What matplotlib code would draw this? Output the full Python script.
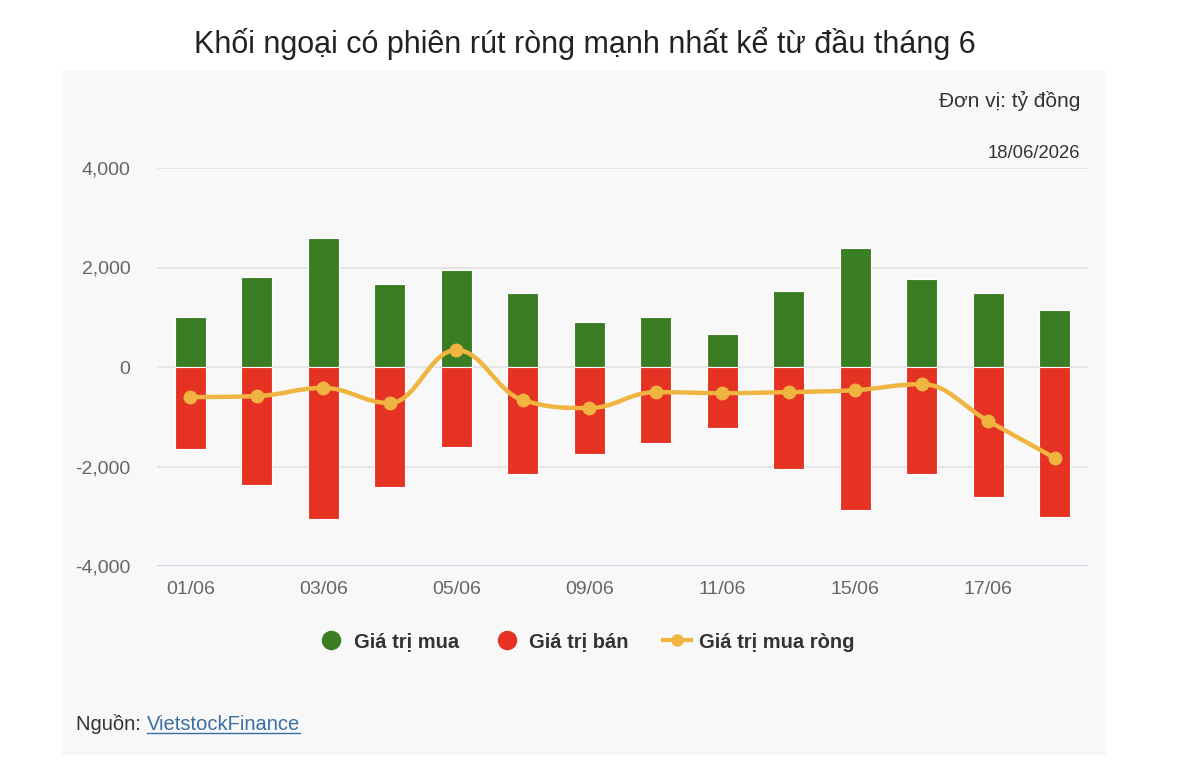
import matplotlib
matplotlib.use("Agg")
import matplotlib.pyplot as plt
import numpy as np
from matplotlib.lines import Line2D
from matplotlib.patches import Rectangle, PathPatch
from matplotlib.path import Path

plt.rcParams["font.family"] = ["Liberation Sans", "DejaVu Sans"]

# ── data (tỷ đồng) ───────────────────────────────────────────────────────
dates = ["01/06", "02/06", "03/06", "04/06", "05/06", "08/06", "09/06",
         "10/06", "11/06", "12/06", "15/06", "16/06", "17/06", "18/06"]
buy = [1005, 1810, 2590, 1670, 1950, 1490, 905, 1005, 665, 1530, 2390, 1770, 1490, 1145]
sell = [-1650, -2370, -3055, -2410, -1610, -2150, -1750, -1530, -1225, -2050, -2875, -2150, -2615, -3015]
net = [-605, -585, -420, -725, 340, -665, -825, -505, -525, -505, -465, -345, -1085, -1830]

GREEN, RED, ORANGE = "#3a7d23", "#e53222", "#f0b441"
BG = "#f8f8f8"


def spline_path(xs, ys, smoothing=1.5):
    # highcharts-style spline: cubic bezier through every point
    n = len(xs)
    lc = [None] * n
    rc = [None] * n
    for i in range(1, n - 1):
        x, y = xs[i], ys[i]
        lx, ly, nx, ny = xs[i - 1], ys[i - 1], xs[i + 1], ys[i + 1]
        d = smoothing + 1
        lcx, lcy = (smoothing * x + lx) / d, (smoothing * y + ly) / d
        rcx, rcy = (smoothing * x + nx) / d, (smoothing * y + ny) / d
        corr = (rcy - lcy) * (rcx - x) / (rcx - lcx) + y - rcy
        lcy += corr
        rcy += corr
        if lcy > ly and lcy > y:
            lcy = max(ly, y); rcy = 2 * y - lcy
        elif lcy < ly and lcy < y:
            lcy = min(ly, y); rcy = 2 * y - lcy
        if rcy > ny and rcy > y:
            rcy = max(ny, y); lcy = 2 * y - rcy
        elif rcy < ny and rcy < y:
            rcy = min(ny, y); lcy = 2 * y - rcy
        lc[i], rc[i] = (lcx, lcy), (rcx, rcy)
    verts = [(xs[0], ys[0])]
    codes = [Path.MOVETO]
    for i in range(1, n):
        c1 = rc[i - 1] or (xs[i - 1], ys[i - 1])
        c2 = lc[i] or (xs[i], ys[i])
        verts += [c1, c2, (xs[i], ys[i])]
        codes += [Path.CURVE4] * 3
    return Path(verts, codes)


fig = plt.figure(figsize=(12, 7.8), dpi=100)
fig.patch.set_facecolor("white")
fig.add_artist(Rectangle((62 / 1200, 1 - 755 / 780), 1044 / 1200, 685 / 780,
                         transform=fig.transFigure, facecolor=BG, edgecolor="none", zorder=-5))

ax = fig.add_axes([157 / 1200, 1 - 566 / 780, 931 / 1200, 398 / 780])
ax.set_zorder(2)
ax.set_facecolor(BG)
x = np.arange(len(dates))
ax.bar(x, buy, width=0.47, color=GREEN, edgecolor="white", linewidth=0.8, zorder=2)
ax.bar(x, sell, width=0.47, color=RED, edgecolor="white", linewidth=0.8, zorder=2)
ax.add_patch(PathPatch(spline_path(list(x), net), facecolor="none", edgecolor=ORANGE,
                       lw=3.2, capstyle="round", joinstyle="round", zorder=3))
ax.plot(x, net, ls="none", marker="o", ms=9, color=ORANGE, zorder=4)

ax.set_xlim(-0.5, len(dates) - 0.5)
ax.set_ylim(-4000, 4000)
ax.set_yticks([-4000, -2000, 0, 2000, 4000])
ax.set_yticklabels([f"{v:,}" for v in [-4000, -2000, 0, 2000, 4000]])
ax.set_xticks(x[::2])
ax.set_xticklabels(dates[::2])
ax.tick_params(length=0, labelsize=14, colors="#666666")
ax.tick_params(axis="y", pad=19)
ax.tick_params(axis="x", pad=11)
ax.grid(axis="y", color="#e3e3e3", lw=1.3, zorder=0)
ax.set_axisbelow(True)
for s in ax.spines.values():
    s.set_visible(False)
ax.axhline(-4000, color="#ccd6eb", lw=1.5, zorder=1)

fig.text(585 / 1200, 1 - 44 / 780, "Khối ngoại có phiên rút ròng mạnh nhất kể từ đầu tháng 6",
         ha="center", va="center", fontsize=22, color="#222222")
fig.text(1080 / 1200, 1 - 101 / 780, "Đơn vị: tỷ đồng", ha="right", va="center",
         fontsize=15, color="#333333")
fig.text(1080 / 1200, 1 - 153 / 780, "18/06/2026", ha="right", va="center",
         fontsize=13.3, color="#333333")

handles = [
    Line2D([], [], ls="none", marker="o", ms=13, color=GREEN),
    Line2D([], [], ls="none", marker="o", ms=13, color=RED),
    Line2D([], [], color=ORANGE, lw=3, marker="o", ms=8),
]
fig.legend(handles, ["Giá trị mua", "Giá trị bán", "Giá trị mua ròng"],
           loc="center", bbox_to_anchor=(586 / 1200, 1 - 642 / 780), ncol=3,
           frameon=False, handlelength=1.4, handletextpad=0.4, columnspacing=1.7,
           prop={"size": 14.5, "weight": "bold"}, labelcolor="#333333")

t1 = fig.text(76 / 1200, 1 - 724 / 780, "Nguồn: ", ha="left", va="center",
              fontsize=14.5, color="#333333")
fig.canvas.draw()
r = fig.canvas.get_renderer()
bb = t1.get_window_extent(r)
t2 = fig.text(bb.x1 / 1200, 1 - 724 / 780, "VietstockFinance", ha="left", va="center",
              fontsize=14.5, color="#3a6ea5")
bb2 = t2.get_window_extent(r)
fig.add_artist(Line2D([bb2.x0 / 1200, bb2.x1 / 1200], [(bb2.y0 + 1) / 780] * 2,
                      color="#3a6ea5", lw=1, transform=fig.transFigure))

fig.savefig("out.png", dpi=100, facecolor="white")
